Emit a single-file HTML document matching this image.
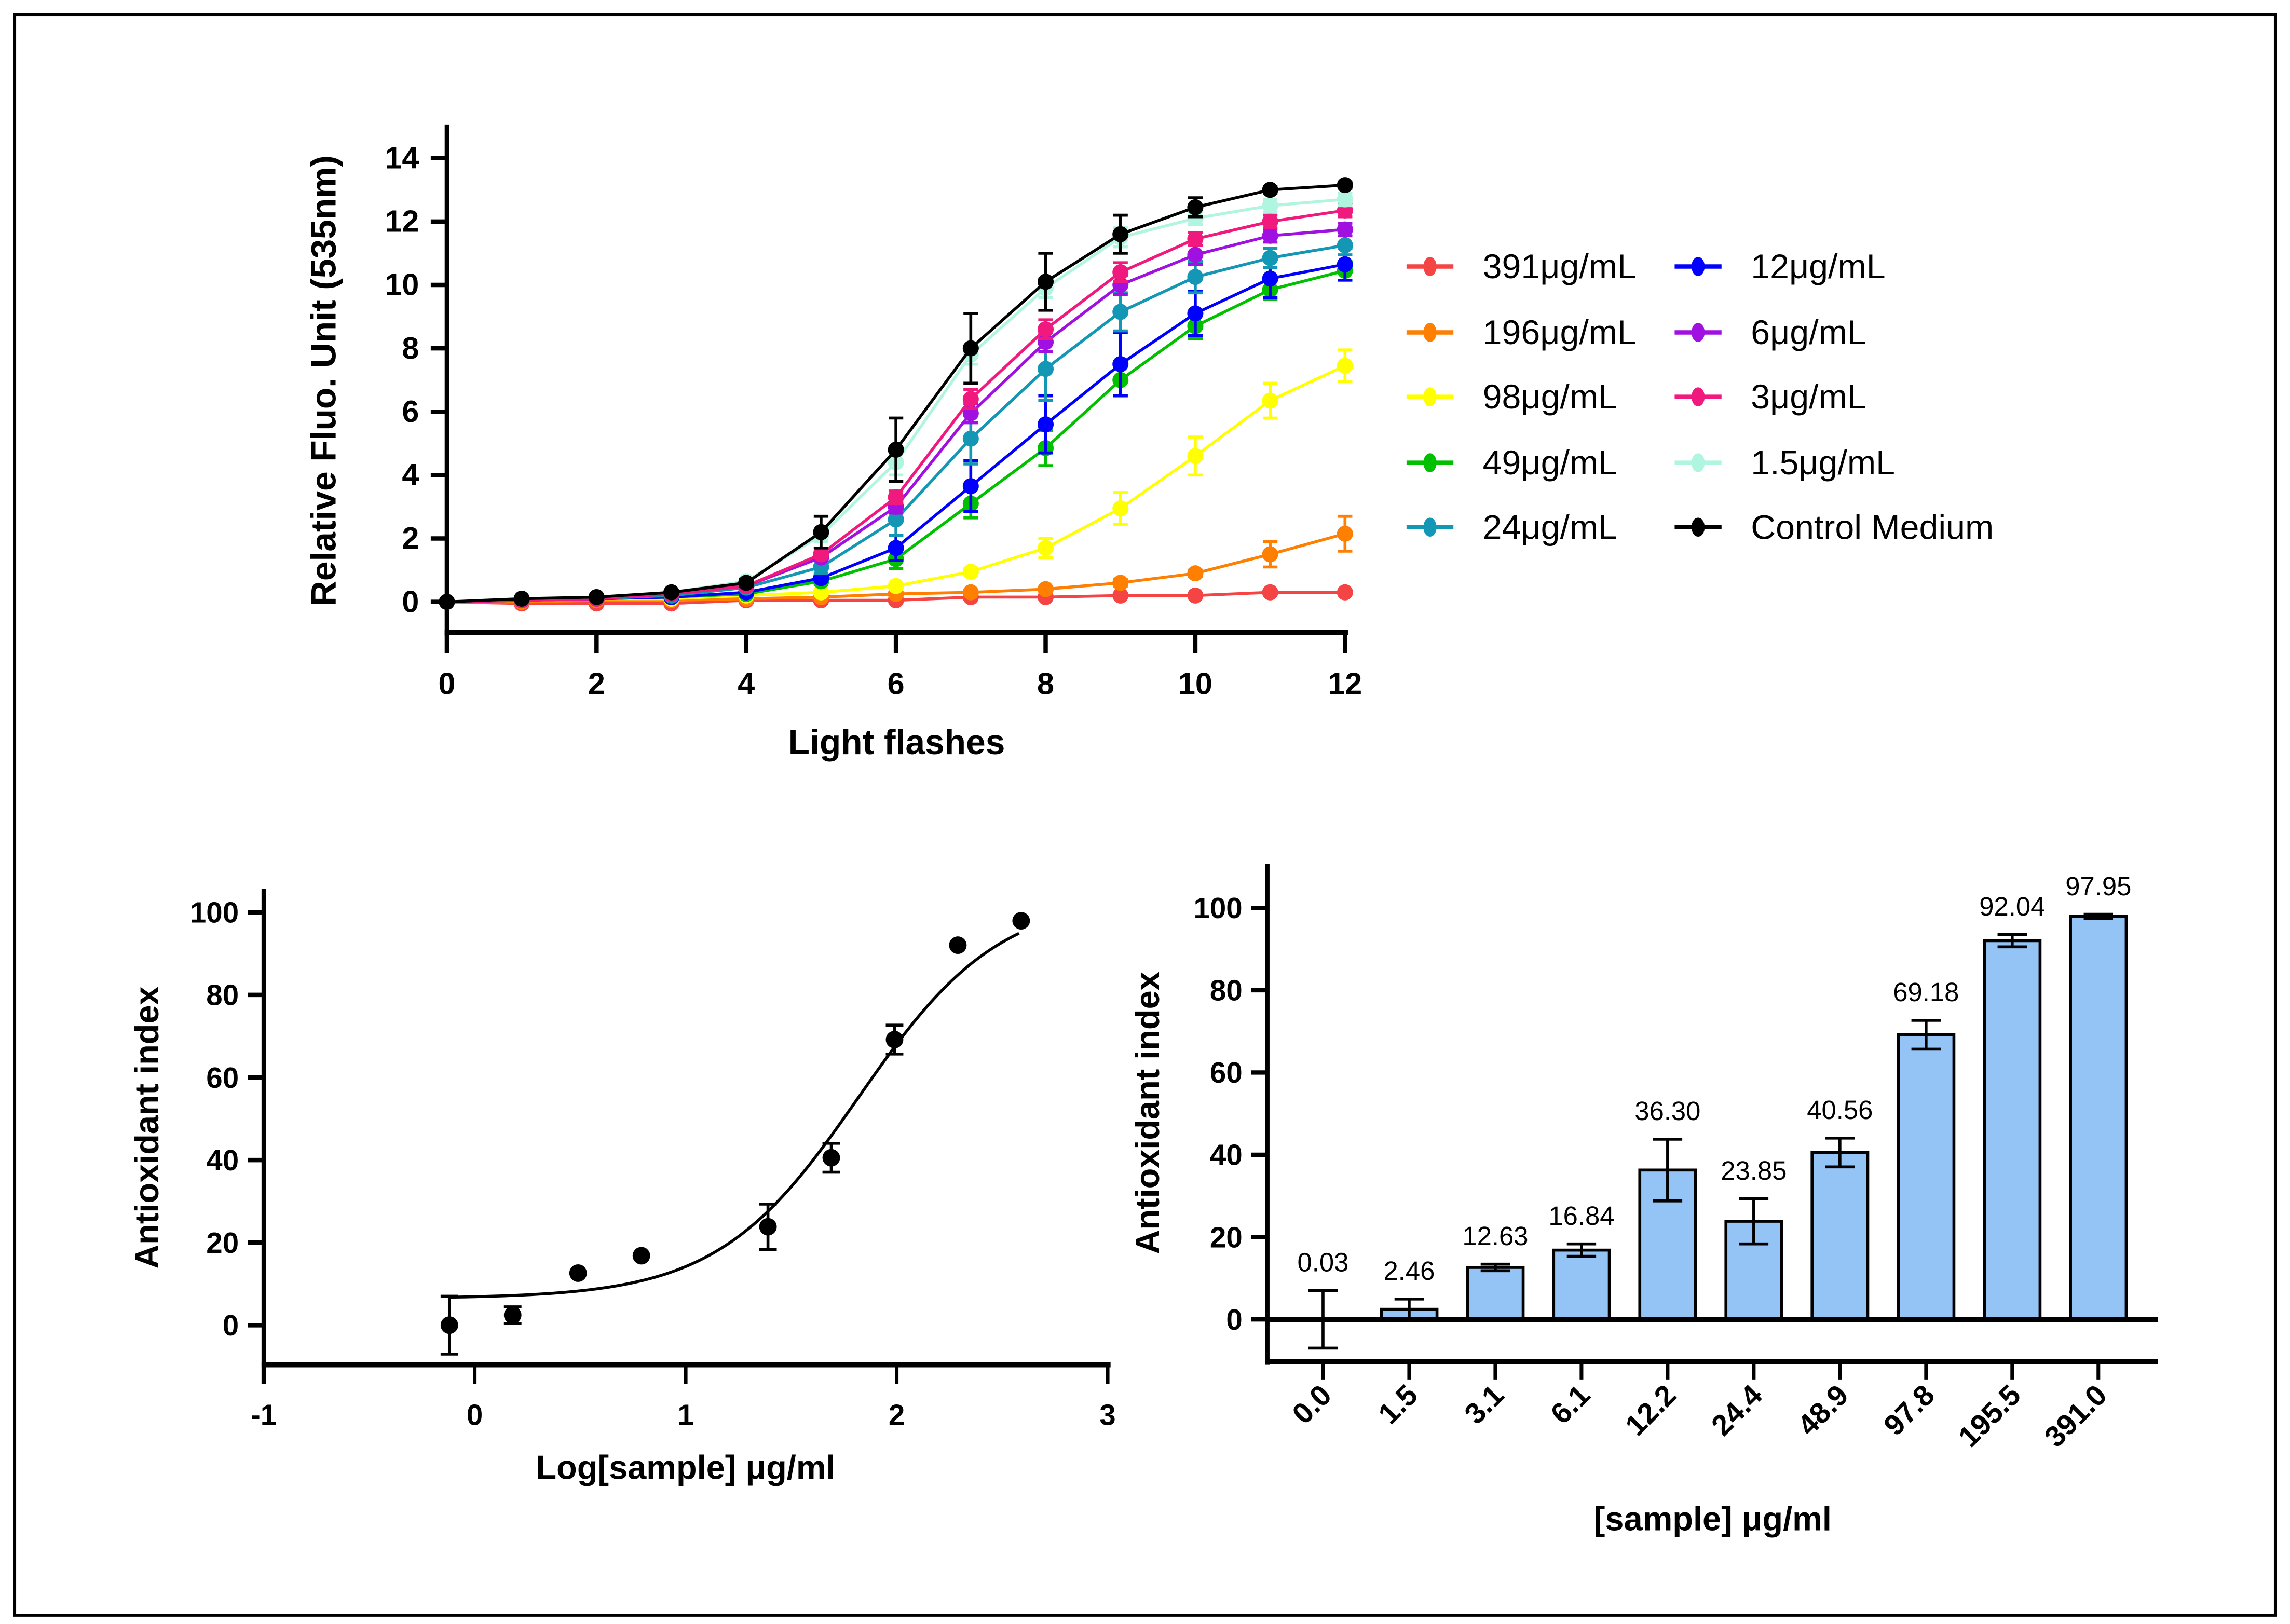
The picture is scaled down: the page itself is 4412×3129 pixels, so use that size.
<!DOCTYPE html>
<html><head><meta charset="utf-8"><style>
html,body{margin:0;padding:0;background:#fff}
svg{display:block}
text{font-family:"Liberation Sans",Arial,sans-serif}
</style></head><body>
<svg id="svg" width="4412" height="3129" viewBox="0 0 1563 1109" preserveAspectRatio="none" xmlns="http://www.w3.org/2000/svg">
<rect x="10" y="10" width="1543" height="1093" fill="#fff" stroke="#000" stroke-width="2"/>
<g id="top"></g>
<g id="bl"></g>
<g id="br"></g>
</svg>
<script>
// ---------- Top chart data ----------
const flashes=[0,1,2,3,4,5,6,7,8,9,10,11,12];
const seriesNames=["391μg/mL","196μg/mL","98μg/mL","49μg/mL","24μg/mL","12μg/mL","6μg/mL","3μg/mL","1.5μg/mL","Control Medium"];
const seriesColors=["#f44444","#ff7f00","#ffff00","#00c000","#1497b4","#0000ff","#a010e0","#f0197d","#b0f5e0","#000000"];
const s391=[0,-0.05,-0.05,-0.05,0.05,0.05,0.05,0.15,0.15,0.2,0.2,0.3,0.3];
const s196=[0,0,0.05,0.05,0.1,0.15,0.25,0.3,0.4,0.6,0.9,1.5,2.15];
const s98=[0,0.05,0.1,0.1,0.2,0.3,0.5,0.95,1.7,2.95,4.6,6.35,7.45];
const s49=[0,0.05,0.1,0.15,0.25,0.65,1.35,3.1,4.85,7.0,8.7,9.85,10.45];
const s24=[0,0.05,0.1,0.2,0.45,1.1,2.6,5.15,7.35,9.15,10.25,10.85,11.25];
const s12=[0,0.05,0.1,0.15,0.3,0.75,1.7,3.65,5.6,7.5,9.1,10.2,10.65];
const s6=[0,0.05,0.1,0.25,0.5,1.4,3.0,5.95,8.2,10.0,10.95,11.55,11.75];
const s3=[0,0.05,0.1,0.25,0.5,1.5,3.3,6.4,8.6,10.4,11.45,12.0,12.35];
const s15=[0,0.1,0.15,0.3,0.65,2.1,4.4,7.8,9.9,11.5,12.1,12.5,12.7];
const sCtrl=[0,0.1,0.15,0.3,0.6,2.2,4.8,8.0,10.1,11.6,12.45,13.0,13.15];
const e391=[0,0,0,0,0,0,0,0,0,0,0,0.05,0.05];
const e196=[0,0,0,0,0,0,0,0,0,0.1,0.1,0.4,0.55];
const e98=[0,0,0,0,0,0,0.05,0.1,0.3,0.5,0.6,0.55,0.5];
const e49=[0,0,0,0,0,0.1,0.3,0.45,0.55,0.5,0.4,0.3,0.3];
const e24=[0,0,0,0,0,0.2,0.5,0.8,1.0,0.6,0.5,0.3,0.3];
const e12=[0,0,0,0,0,0.1,0.4,0.8,0.9,1.0,0.7,0.6,0.5];
const e6=[0,0,0,0,0,0.1,0.2,0.3,0.3,0.3,0.3,0.2,0.2];
const e3=[0,0,0,0,0,0.1,0.2,0.3,0.3,0.3,0.2,0.2,0.2];
const e15=[0,0,0,0,0,0.2,0.4,0.3,0.3,0.3,0.2,0.2,0.2];
const eCtrl=[0,0,0,0,0.1,0.5,1.0,1.1,0.9,0.6,0.3,0.1,0.1];
const topYTicks=[0,2,4,6,8,10,12,14];
const topXTicks=[0,2,4,6,8,10,12];

// ---------- Bottom-left data ----------
const logX=[-0.12,0.18,0.49,0.79,1.39,1.69,1.99,2.29,2.59];
const logY=[0.03,2.46,12.63,16.84,23.85,40.56,69.18,92.04,97.95];
const logErr=[7,2,0,0,5.5,3.5,3.5,0.5,0.5];
const fitParams=[6.5,104,1.82,1.3]; // bottom, top, logEC50, hill
const blXTicks=[-1,0,1,2,3];
const blYTicks=[0,20,40,60,80,100];

// ---------- Bottom-right data ----------
const barCats=["0.0","1.5","3.1","6.1","12.2","24.4","48.9","97.8","195.5","391.0"];
const barVals=[0.03,2.46,12.63,16.84,36.30,23.85,40.56,69.18,92.04,97.95];
const barErr=[7,2.5,0.8,1.5,7.5,5.5,3.5,3.5,1.5,0.5];
const brYTicks=[0,20,40,60,80,100];

const NS="http://www.w3.org/2000/svg";
function mk(parent,tag,attrs,txt){const e=document.createElementNS(NS,tag);for(const k in attrs)e.setAttribute(k,attrs[k]);if(txt!==undefined)e.textContent=txt;parent.appendChild(e);return e;}

// ===== TOP =====
(function(){
const g=document.getElementById('top');
const X=v=>305+v*(918-305)/12, Y=v=>411-v*(411-108)/14;
const all=[s391,s196,s98,s49,s24,s12,s6,s3,s15,sCtrl];
const errs=[e391,e196,e98,e49,e24,e12,e6,e3,e15,eCtrl];
const yl=mk(g,'line',{x1:305,y1:85,x2:305,y2:434,stroke:'#000','stroke-width':3});


const xl=mk(g,'line',{x1:303.5,y1:432,x2:920,y2:432,stroke:'#000','stroke-width':3.5});


topYTicks.forEach(v=>{
 mk(g,'line',{x1:294,y1:Y(v),x2:305,y2:Y(v),stroke:'#000','stroke-width':3});
 const t=mk(g,'text',{x:286,y:Y(v)+7,'text-anchor':'end','font-size':21,'font-weight':'bold'},v);
 
 
});
topXTicks.forEach(v=>{
 mk(g,'line',{x1:X(v),y1:432,x2:X(v),y2:446,stroke:'#000','stroke-width':3});
 const t=mk(g,'text',{x:X(v),y:474,'text-anchor':'middle','font-size':21,'font-weight':'bold'},v);
 
 
});
const xt=mk(g,'text',{x:612,y:515,'text-anchor':'middle','font-size':24,'font-weight':'bold'},'Light flashes');


const yt=mk(g,'text',{x:0,y:0,transform:'translate(229,260) rotate(-90)','text-anchor':'middle','font-size':24,'font-weight':'bold'},'Relative Fluo. Unit (535nm)');


const order=[0,1,2,3,5,4,6,7,8,9];
order.forEach(i=>{
 const s=all[i],c=seriesColors[i],e=errs[i];
 const sg=mk(g,'g',{});
 
 
 s.forEach((v,j)=>{ if(e[j]>0){
  mk(sg,'line',{x1:X(flashes[j]),y1:Y(v-e[j]),x2:X(flashes[j]),y2:Y(v+e[j]),stroke:c,'stroke-width':2});
  mk(sg,'line',{x1:X(flashes[j])-5,y1:Y(v+e[j]),x2:X(flashes[j])+5,y2:Y(v+e[j]),stroke:c,'stroke-width':2});
  mk(sg,'line',{x1:X(flashes[j])-5,y1:Y(v-e[j]),x2:X(flashes[j])+5,y2:Y(v-e[j]),stroke:c,'stroke-width':2});
 }});
 mk(sg,'polyline',{points:s.map((v,j)=>X(flashes[j])+','+Y(v)).join(' '),fill:'none',stroke:c,'stroke-width':2});
 s.forEach((v,j)=>{const p=mk(sg,'circle',{cx:X(flashes[j]),cy:Y(v),r:5.5,fill:c});
  
  });
});
// legend
const colX=[960,1143], rowsY=[182,227,271,316,360];
seriesNames.forEach((n,i)=>{
 const col=i<5?0:1,row=i%5, lx=colX[col], ly=rowsY[row];
 const lg=mk(g,'g',{});
 
 
 mk(lg,'line',{x1:lx,y1:ly,x2:lx+32,y2:ly,stroke:seriesColors[i],'stroke-width':3});
 mk(lg,'ellipse',{cx:lx+16,cy:ly,rx:4.5,ry:6.5,fill:seriesColors[i]});
 mk(lg,'text',{x:lx+52,y:ly+8,'font-size':23.5},n);
});
})();

// ===== BOTTOM LEFT =====
(function(){
const g=document.getElementById('bl');
const X=v=>324+v*144, Y=v=>905-v*2.82;
const yl=mk(g,'line',{x1:180,y1:607,x2:180,y2:945,stroke:'#000','stroke-width':3});


const xl=mk(g,'line',{x1:178.5,y1:932,x2:758,y2:932,stroke:'#000','stroke-width':3.5});


blYTicks.forEach(v=>{
 mk(g,'line',{x1:169,y1:Y(v),x2:180,y2:Y(v),stroke:'#000','stroke-width':3});
 const t=mk(g,'text',{x:163,y:Y(v)+7,'text-anchor':'end','font-size':20,'font-weight':'bold'},v);
 
 
});
blXTicks.forEach(v=>{
 mk(g,'line',{x1:X(v),y1:932,x2:X(v),y2:945,stroke:'#000','stroke-width':2.5});
 const t=mk(g,'text',{x:X(v),y:973,'text-anchor':'middle','font-size':20,'font-weight':'bold'},v);
 
 
});
const xt=mk(g,'text',{x:468,y:1010,'text-anchor':'middle','font-size':23,'font-weight':'bold'},'Log[sample] μg/ml');


const yt=mk(g,'text',{x:0,y:0,transform:'translate(108,770) rotate(-90)','text-anchor':'middle','font-size':23,'font-weight':'bold'},'Antioxidant index');


const [b,t,c,h]=fitParams; const pts=[];
for(let x=logX[0];x<=logX[logX.length-1]+0.001;x+=0.02){pts.push(X(x)+','+Y(b+(t-b)/(1+Math.pow(10,(c-x)*h))));}
const fit=mk(g,'polyline',{points:pts.join(' '),fill:'none',stroke:'#000','stroke-width':2});


logX.forEach((x,i)=>{
 const v=logY[i],e=logErr[i];
 if(e>1){
  mk(g,'line',{x1:X(x),y1:Y(v-e),x2:X(x),y2:Y(v+e),stroke:'#000','stroke-width':2});
  mk(g,'line',{x1:X(x)-6,y1:Y(v+e),x2:X(x)+6,y2:Y(v+e),stroke:'#000','stroke-width':2});
  mk(g,'line',{x1:X(x)-6,y1:Y(v-e),x2:X(x)+6,y2:Y(v-e),stroke:'#000','stroke-width':2});
 }
 const p=mk(g,'circle',{cx:X(x),cy:Y(v),r:6,fill:'#000'});
 
 
});
})();

// ===== BOTTOM RIGHT =====
(function(){
const g=document.getElementById('br');
const Y=v=>901-v*2.81;
const X=i=>903+i*58.8;
const yl=mk(g,'line',{x1:865,y1:590,x2:865,y2:932,stroke:'#000','stroke-width':3});


brYTicks.forEach(v=>{
 mk(g,'line',{x1:854,y1:Y(v),x2:865,y2:Y(v),stroke:'#000','stroke-width':3});
 const t=mk(g,'text',{x:848,y:Y(v)+7,'text-anchor':'end','font-size':20,'font-weight':'bold'},v);
 
 
});
barCats.forEach((cat,i)=>{
 const v=barVals[i],e=barErr[i],x=X(i);
 const r=mk(g,'rect',{x:x-19,y:Math.min(Y(v),901),width:38,height:Math.abs(901-Y(v)),fill:'#94c3f5',stroke:'#000','stroke-width':2});
 
 
 mk(g,'line',{x1:x,y1:Y(v-e),x2:x,y2:Y(v+e),stroke:'#000','stroke-width':2});
 mk(g,'line',{x1:x-10,y1:Y(v+e),x2:x+10,y2:Y(v+e),stroke:'#000','stroke-width':2});
 mk(g,'line',{x1:x-10,y1:Y(v-e),x2:x+10,y2:Y(v-e),stroke:'#000','stroke-width':2});
 const vl=mk(g,'text',{x:x,y:Y(v+e)-13,'text-anchor':'middle','font-size':18},v.toFixed(2));
 
 
 mk(g,'line',{x1:x,y1:930,x2:x,y2:942,stroke:'#000','stroke-width':2.5});
 const tl=mk(g,'text',{x:0,y:0,transform:'translate('+(x+7)+',954) rotate(-45)','text-anchor':'end','font-size':20,'font-weight':'bold'},cat);
 
 
});
const zl=mk(g,'line',{x1:865,y1:901,x2:1473,y2:901,stroke:'#000','stroke-width':3.5});


const xl=mk(g,'line',{x1:863.5,y1:930,x2:1473,y2:930,stroke:'#000','stroke-width':3.5});


const xt=mk(g,'text',{x:1169,y:1045,'text-anchor':'middle','font-size':23,'font-weight':'bold'},'[sample] μg/ml');


const yt=mk(g,'text',{x:0,y:0,transform:'translate(791,760) rotate(-90)','text-anchor':'middle','font-size':23,'font-weight':'bold'},'Antioxidant index');


})();
</script>
</body></html>
